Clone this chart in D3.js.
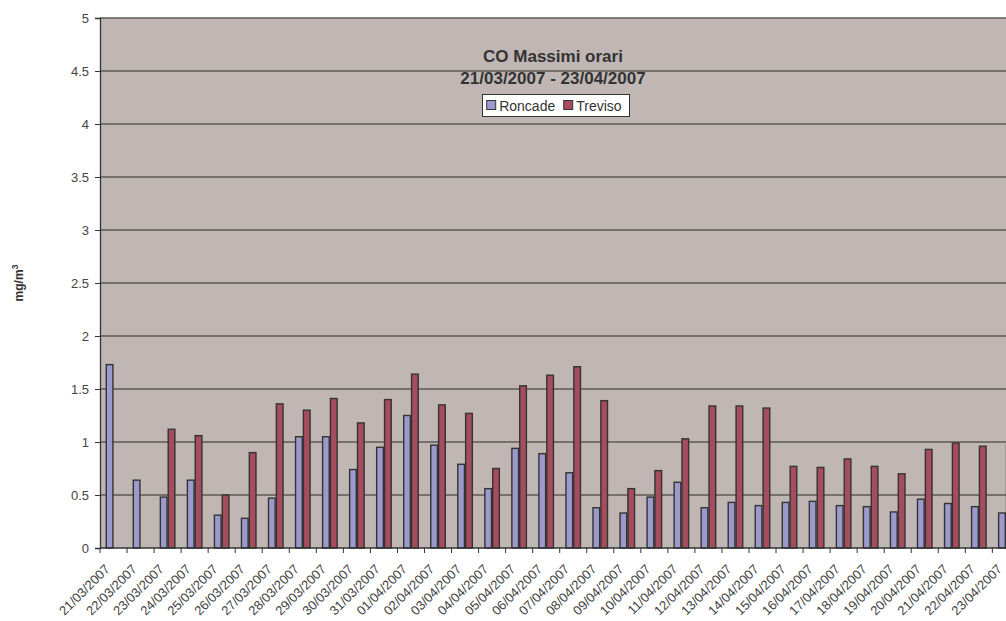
<!DOCTYPE html>
<html>
<head>
<meta charset="utf-8">
<script src="https://cdn.jsdelivr.net/npm/d3@7/dist/d3.min.js"></script>
<style>
  html, body { margin: 0; padding: 0; background: #fff; }
  svg { display: block; font-family: "Liberation Sans", Arial, sans-serif; }
</style>
</head>
<body>
<svg id="chart" width="1006" height="621"></svg>
<script>
const categories = ["21/03/2007","22/03/2007","23/03/2007","24/03/2007","25/03/2007","26/03/2007","27/03/2007","28/03/2007","29/03/2007","30/03/2007","31/03/2007","01/04/2007","02/04/2007","03/04/2007","04/04/2007","05/04/2007","06/04/2007","07/04/2007","08/04/2007","09/04/2007","10/04/2007","11/04/2007","12/04/2007","13/04/2007","14/04/2007","15/04/2007","16/04/2007","17/04/2007","18/04/2007","19/04/2007","20/04/2007","21/04/2007","22/04/2007","23/04/2007"];
const roncade = [1.73,0.64,0.48,0.64,0.31,0.28,0.47,1.05,1.05,0.74,0.95,1.25,0.97,0.79,0.56,0.94,0.89,0.71,0.38,0.33,0.48,0.62,0.38,0.43,0.40,0.43,0.44,0.40,0.39,0.34,0.46,0.42,0.39,0.33];
const treviso = [null,null,1.12,1.06,0.50,0.90,1.36,1.30,1.41,1.18,1.40,1.64,1.35,1.27,0.75,1.53,1.63,1.71,1.39,0.56,0.73,1.03,1.34,1.34,1.32,0.77,0.76,0.84,0.77,0.70,0.93,0.99,0.96,0.97];
const seriesNames = ["Roncade","Treviso"];
const seriesColors = ["#9c99cc","#a54c5f"];
const yTicks = [0,0.5,1,1.5,2,2.5,3,3.5,4,4.5,5];
const titleLines = ["CO Massimi orari","21/03/2007 - 23/04/2007"];

(function () {
const svg = d3.select("#chart");
const pL = 100, pR = 1019.4, pT = 18, pB = 548;

const x0 = d3.scaleBand().domain(categories).range([pL, pR]).padding(0);
const x1 = d3.scaleBand().domain(seriesNames).range([0, x0.bandwidth()]).paddingInner(0).paddingOuter(0.72);
const y = d3.scaleLinear().domain([0, 5]).range([pB, pT]);

// plot background
svg.append("rect").attr("x", pL).attr("y", pT).attr("width", pR - pL).attr("height", pB - pT).attr("fill", "#c0b7b4");

// gridlines
svg.append("g").selectAll("line").data(yTicks.filter(d => d > 0)).join("line")
  .attr("x1", pL).attr("x2", pR)
  .attr("y1", d => y(d)).attr("y2", d => y(d))
  .attr("stroke", "#5e5757").attr("stroke-width", 1.3);

// bars
const data = categories.map((c, i) => ({cat: c, vals: [roncade[i], treviso[i]]}));
const groups = svg.append("g").selectAll("g").data(data).join("g")
  .attr("transform", d => `translate(${x0(d.cat)},0)`);
groups.selectAll("rect").data(d => d.vals.map((v, j) => ({name: seriesNames[j], v, j})).filter(e => e.v != null))
  .join("rect")
  .attr("x", e => x1(e.name) + 0.6)
  .attr("width", x1.bandwidth() - 1.2)
  .attr("y", e => y(e.v))
  .attr("height", e => pB - y(e.v))
  .attr("fill", e => seriesColors[e.j])
  .attr("stroke", "#333").attr("stroke-width", 1.4);

// y axis
const yAxis = d3.axisLeft(y).tickValues(yTicks).tickSize(5).tickPadding(6).tickFormat(d3.format("~g"));
const ya = svg.append("g").attr("transform", `translate(${pL},0)`).call(yAxis);
ya.select(".domain").attr("stroke", "#333").attr("stroke-width", 1.3);
ya.selectAll(".tick line").attr("stroke", "#333");
ya.selectAll(".tick text").attr("fill", "#444").style("font-size", "13px").style("font-family", "Liberation Sans, Arial, sans-serif");

// x axis
const tickPos = categories.map(c => x0(c)).concat([pR]);
const xa = svg.append("g");
xa.append("line").attr("x1", pL).attr("x2", pR).attr("y1", pB).attr("y2", pB).attr("stroke", "#333").attr("stroke-width", 1.3);
xa.selectAll("line.tk").data(tickPos).join("line").attr("class", "tk")
  .attr("x1", d => d).attr("x2", d => d).attr("y1", pB).attr("y2", pB + 5)
  .attr("stroke", "#333");
xa.selectAll("text").data(categories).join("text")
  .attr("transform", d => `translate(${x0(d) + x0.bandwidth() / 2 - 3},${pB + 22}) rotate(-45)`)
  .attr("text-anchor", "end")
  .attr("fill", "#444").style("font-size", "13px")
  .text(d => d);

// y label
svg.append("text").attr("transform", "translate(23,283) rotate(-90)")
  .attr("text-anchor", "middle").attr("fill", "#333")
  .style("font-size", "12px").style("font-weight", "bold")
  .html('mg/m<tspan dy="-5" font-size="8.5">3</tspan>');

// title
svg.append("g").selectAll("text").data(titleLines).join("text")
  .attr("x", 553).attr("y", (d, i) => 62 + i * 22)
  .attr("text-anchor", "middle").attr("fill", "#333")
  .style("font-size", "17px").style("font-weight", "bold")
  .text(d => d);

// legend
const lg = svg.append("g");
lg.append("rect").attr("x", 482.5).attr("y", 94.5).attr("width", 147).attr("height", 22)
  .attr("fill", "#fff").attr("stroke", "#333").attr("stroke-width", 1);
const legendX = [486.7, 563.7];
seriesNames.forEach((n, i) => {
  lg.append("rect").attr("x", legendX[i]).attr("y", 100.5).attr("width", 9).attr("height", 9)
    .attr("fill", seriesColors[i]).attr("stroke", "#333").attr("stroke-width", 1);
  lg.append("text").attr("x", legendX[i] + 12.5).attr("y", 110.5).attr("fill", "#333")
    .style("font-size", "14px").text(n);
});
})();
</script>
</body>
</html>
